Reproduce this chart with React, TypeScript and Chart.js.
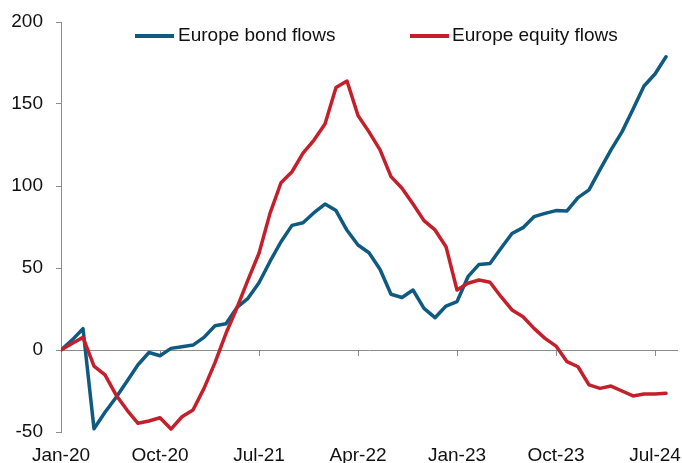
import React, { useEffect, useRef } from "react";
import { Chart, registerables } from "chart.js";

Chart.register(...registerables);

const months = [
  "Jan-20", "Feb-20", "Mar-20", "Apr-20", "May-20", "Jun-20", "Jul-20", "Aug-20", "Sep-20", "Oct-20", "Nov-20", "Dec-20",
  "Jan-21", "Feb-21", "Mar-21", "Apr-21", "May-21", "Jun-21", "Jul-21", "Aug-21", "Sep-21", "Oct-21", "Nov-21", "Dec-21",
  "Jan-22", "Feb-22", "Mar-22", "Apr-22", "May-22", "Jun-22", "Jul-22", "Aug-22", "Sep-22", "Oct-22", "Nov-22", "Dec-22",
  "Jan-23", "Feb-23", "Mar-23", "Apr-23", "May-23", "Jun-23", "Jul-23", "Aug-23", "Sep-23", "Oct-23", "Nov-23", "Dec-23",
  "Jan-24", "Feb-24", "Mar-24", "Apr-24", "May-24", "Jun-24", "Jul-24", "Aug-24",
];

const bondFlows = [
  0, 6, 13, -48, -38, -29, -19, -9, -1.5, -3.5, 1, 2,
  3, 7.7, 14.8, 16, 26, 31.5, 41, 54, 66, 76, 77.6, 83.7,
  89, 85, 73, 64, 59.3, 49.2, 34, 32, 36.6, 25.4, 19.7, 26.8,
  29.5, 44.7, 52.2, 52.8, 62, 71, 74.6, 81.3, 83.3, 85, 84.8, 92.9,
  97.6, 110, 122, 133, 146.8, 161, 168.3, 178.8,
];

const equityFlows = [
  0, 4, 7.7, -9.8, -15.2, -27.4, -36.6, -44.7, -43.3, -41.3, -48.2, -40.7,
  -36.6, -23.4, -7.7, 10.2, 25.8, 42.7, 59, 83.3, 102, 108.7, 120, 128,
  137.8, 160, 164, 143, 133, 122, 105.7, 98.6, 89, 78.9, 73.2, 63,
  36.6, 40.7, 42.7, 41.3, 32.5, 24.4, 20.3, 13.2, 7.1, 2.4, -7.1, -10.2,
  -21.3, -23.4, -22, -25, -28, -26.8, -26.8, -26.4,
];

const seriesNames = ["Europe bond flows", "Europe equity flows"];
const yMin = -50;
const yMax = 200;
const yStep = 50;
const xTickStep = 9;

const BLUE = "#0e5a80";
const RED = "#c3202b";
const AXIS = "#8c8c8c";
const TEXT = "#111111";
const FONT_FAMILY = "'Liberation Sans', Arial, sans-serif";

export default function App() {
  const ref = useRef<HTMLCanvasElement>(null);

  useEffect(() => {
    if (!ref.current) return;
    const font = { family: FONT_FAMILY, size: 19 };
    const chart = new Chart(ref.current, {
      type: "line",
      data: {
        datasets: [
          {
            label: seriesNames[0],
            data: bondFlows.map((y, i) => ({ x: i, y })),
            borderColor: BLUE,
            backgroundColor: BLUE,
            borderWidth: 3.5,
            pointRadius: 0,
            tension: 0,
            borderJoinStyle: "round",
            borderCapStyle: "round",
            order: 1,
          },
          {
            label: seriesNames[1],
            data: equityFlows.map((y, i) => ({ x: i, y })),
            borderColor: RED,
            backgroundColor: RED,
            borderWidth: 3.5,
            pointRadius: 0,
            tension: 0,
            borderJoinStyle: "round",
            borderCapStyle: "round",
            order: 0,
          },
        ],
      },
      options: {
        animation: false,
        responsive: false,
        layout: { padding: { left: 0, top: 22, right: 5, bottom: 0 } },
        plugins: { legend: { display: false }, tooltip: { enabled: false } },
        scales: {
          x: {
            type: "linear",
            position: "bottom",
            min: 0,
            max: months.length,
            ticks: {
              stepSize: xTickStep,
              includeBounds: false,
              autoSkip: false,
              maxRotation: 0,
              padding: 12,
              font,
              color: TEXT,
              callback: (v: any) => months[Number(v)] ?? "",
            },
            grid: { display: false, drawTicks: false },
            border: { display: false },
            afterFit: (s: any) => {
              s.height = 31;
              s.paddingLeft = 0;
              s.paddingRight = 0;
            },
          },
          xZero: {
            type: "linear",
            position: { y: 0 } as any,
            min: 0,
            max: months.length,
            ticks: { display: false, stepSize: xTickStep, includeBounds: false },
            grid: { drawOnChartArea: false, drawTicks: true, tickLength: 5, color: AXIS, tickColor: AXIS },
            border: { display: true, color: AXIS, width: 1 },
            afterFit: (s: any) => {
              s.paddingLeft = 0;
              s.paddingRight = 0;
            },
          },
          y: {
            min: yMin,
            max: yMax,
            ticks: { stepSize: yStep, padding: 13, font, color: TEXT },
            grid: { drawOnChartArea: false, drawTicks: true, tickLength: 5, color: AXIS, tickColor: AXIS },
            border: { display: true, color: AXIS, width: 1 },
            afterFit: (s: any) => {
              s.width = 61;
              s.paddingTop = 0;
              s.paddingBottom = 0;
            },
          },
        },
      },
    });
    return () => chart.destroy();
  }, []);

  const legendText: React.CSSProperties = {
    position: "absolute",
    top: 24,
    height: 22,
    lineHeight: "22px",
    fontFamily: FONT_FAMILY,
    fontSize: 19,
    color: TEXT,
    whiteSpace: "nowrap",
  };
  const swatch: React.CSSProperties = { position: "absolute", top: 34, height: 4, width: 39 };

  return (
    <div style={{ position: "absolute", left: 0, top: 0, width: 682, height: 463, background: "#fff" }}>
      <canvas ref={ref} width={682} height={463} style={{ display: "block" }} />
      <div style={{ ...swatch, left: 135, background: BLUE }} />
      <div style={{ ...legendText, left: 178 }}>{seriesNames[0]}</div>
      <div style={{ ...swatch, left: 410, background: RED }} />
      <div style={{ ...legendText, left: 452 }}>{seriesNames[1]}</div>
    </div>
  );
}
